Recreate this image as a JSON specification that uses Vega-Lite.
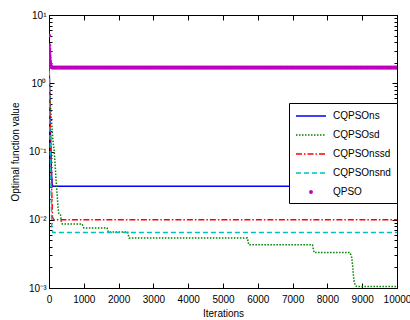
{
  "$schema": "https://vega.github.io/schema/vega-lite/v6.json",
  "width": 348,
  "height": 273,
  "autosize": "none",
  "padding": {"left": 49, "top": 15, "right": 13, "bottom": 32},
  "background": "white",
  "config": {
    "font": "Liberation Sans",
    "view": {"stroke": "black", "strokeWidth": 1},
    "axis": {"domainColor": "black", "tickColor": "black", "labelColor": "black", "titleColor": "black", "grid": false, "labelFontSize": 10, "titleFontSize": 10, "titleFontWeight": "normal", "labelFont": "Liberation Sans", "titleFont": "Liberation Sans"}
  },
  "datasets": {
    "lines": [
      {"s": "CQPSOns", "i": 0, "v": 2.0}, {"s": "CQPSOns", "i": 15, "v": 1.0}, {"s": "CQPSOns", "i": 30, "v": 0.3}, {"s": "CQPSOns", "i": 50, "v": 0.12}, {"s": "CQPSOns", "i": 70, "v": 0.05}, {"s": "CQPSOns", "i": 90, "v": 0.033}, {"s": "CQPSOns", "i": 110, "v": 0.031}, {"s": "CQPSOns", "i": 10000, "v": 0.031},
      {"s": "CQPSOsd", "i": 0, "v": 2.0}, {"s": "CQPSOsd", "i": 20, "v": 0.8}, {"s": "CQPSOsd", "i": 50, "v": 0.4}, {"s": "CQPSOsd", "i": 80, "v": 0.25}, {"s": "CQPSOsd", "i": 110, "v": 0.15}, {"s": "CQPSOsd", "i": 150, "v": 0.1}, {"s": "CQPSOsd", "i": 180, "v": 0.06}, {"s": "CQPSOsd", "i": 200, "v": 0.04}, {"s": "CQPSOsd", "i": 230, "v": 0.025}, {"s": "CQPSOsd", "i": 260, "v": 0.015}, {"s": "CQPSOsd", "i": 280, "v": 0.0125}, {"s": "CQPSOsd", "i": 330, "v": 0.012}, {"s": "CQPSOsd", "i": 360, "v": 0.009}, {"s": "CQPSOsd", "i": 380, "v": 0.0087}, {"s": "CQPSOsd", "i": 950, "v": 0.0087}, {"s": "CQPSOsd", "i": 1000, "v": 0.0076}, {"s": "CQPSOsd", "i": 1670, "v": 0.0076}, {"s": "CQPSOsd", "i": 1700, "v": 0.0066}, {"s": "CQPSOsd", "i": 2260, "v": 0.0066}, {"s": "CQPSOsd", "i": 2300, "v": 0.0054}, {"s": "CQPSOsd", "i": 5700, "v": 0.0054}, {"s": "CQPSOsd", "i": 5740, "v": 0.0043}, {"s": "CQPSOsd", "i": 7570, "v": 0.0043}, {"s": "CQPSOsd", "i": 7620, "v": 0.0033}, {"s": "CQPSOsd", "i": 8650, "v": 0.0033}, {"s": "CQPSOsd", "i": 8700, "v": 0.0028}, {"s": "CQPSOsd", "i": 8730, "v": 0.002}, {"s": "CQPSOsd", "i": 8760, "v": 0.0013}, {"s": "CQPSOsd", "i": 8800, "v": 0.00108}, {"s": "CQPSOsd", "i": 8850, "v": 0.00105}, {"s": "CQPSOsd", "i": 10000, "v": 0.00105},
      {"s": "CQPSOnssd", "i": 0, "v": 1.8}, {"s": "CQPSOnssd", "i": 20, "v": 0.6}, {"s": "CQPSOnssd", "i": 40, "v": 0.2}, {"s": "CQPSOnssd", "i": 60, "v": 0.08}, {"s": "CQPSOnssd", "i": 80, "v": 0.025}, {"s": "CQPSOnssd", "i": 100, "v": 0.011}, {"s": "CQPSOnssd", "i": 130, "v": 0.01}, {"s": "CQPSOnssd", "i": 10000, "v": 0.01},
      {"s": "CQPSOnsnd", "i": 0, "v": 2.0}, {"s": "CQPSOnsnd", "i": 20, "v": 0.3}, {"s": "CQPSOnsnd", "i": 50, "v": 0.05}, {"s": "CQPSOnsnd", "i": 80, "v": 0.008}, {"s": "CQPSOnsnd", "i": 110, "v": 0.0065}, {"s": "CQPSOnsnd", "i": 10000, "v": 0.0065}
    ],
    "qpso": [
      {"s": "QPSO", "i": 0, "v": 5.0}, {"s": "QPSO", "i": 3, "v": 3.6}, {"s": "QPSO", "i": 6, "v": 3.2}, {"s": "QPSO", "i": 9, "v": 2.9}, {"s": "QPSO", "i": 12, "v": 2.6}, {"s": "QPSO", "i": 15, "v": 2.4}, {"s": "QPSO", "i": 20, "v": 2.2}, {"s": "QPSO", "i": 25, "v": 2.05}, {"s": "QPSO", "i": 30, "v": 1.95}, {"s": "QPSO", "i": 40, "v": 1.85}, {"s": "QPSO", "i": 50, "v": 1.78}, {"s": "QPSO", "i": 70, "v": 1.73}, {"s": "QPSO", "i": 100, "v": 1.7},
      {"s": "QPSO", "i": 150, "v": 1.7}, {"s": "QPSO", "i": 200, "v": 1.7}, {"s": "QPSO", "i": 250, "v": 1.7}, {"s": "QPSO", "i": 300, "v": 1.7}, {"s": "QPSO", "i": 350, "v": 1.7}, {"s": "QPSO", "i": 400, "v": 1.7}, {"s": "QPSO", "i": 450, "v": 1.7}, {"s": "QPSO", "i": 500, "v": 1.7}, {"s": "QPSO", "i": 550, "v": 1.7}, {"s": "QPSO", "i": 600, "v": 1.7}, {"s": "QPSO", "i": 650, "v": 1.7}, {"s": "QPSO", "i": 700, "v": 1.7}, {"s": "QPSO", "i": 750, "v": 1.7}, {"s": "QPSO", "i": 800, "v": 1.7}, {"s": "QPSO", "i": 850, "v": 1.7}, {"s": "QPSO", "i": 900, "v": 1.7}, {"s": "QPSO", "i": 950, "v": 1.7},
      {"s": "QPSO", "i": 1000, "v": 1.7}, {"s": "QPSO", "i": 1050, "v": 1.7}, {"s": "QPSO", "i": 1100, "v": 1.7}, {"s": "QPSO", "i": 1150, "v": 1.7}, {"s": "QPSO", "i": 1200, "v": 1.7}, {"s": "QPSO", "i": 1250, "v": 1.7}, {"s": "QPSO", "i": 1300, "v": 1.7}, {"s": "QPSO", "i": 1350, "v": 1.7}, {"s": "QPSO", "i": 1400, "v": 1.7}, {"s": "QPSO", "i": 1450, "v": 1.7}, {"s": "QPSO", "i": 1500, "v": 1.7}, {"s": "QPSO", "i": 1550, "v": 1.7}, {"s": "QPSO", "i": 1600, "v": 1.7}, {"s": "QPSO", "i": 1650, "v": 1.7}, {"s": "QPSO", "i": 1700, "v": 1.7}, {"s": "QPSO", "i": 1750, "v": 1.7}, {"s": "QPSO", "i": 1800, "v": 1.7}, {"s": "QPSO", "i": 1850, "v": 1.7}, {"s": "QPSO", "i": 1900, "v": 1.7}, {"s": "QPSO", "i": 1950, "v": 1.7},
      {"s": "QPSO", "i": 2000, "v": 1.7}, {"s": "QPSO", "i": 2050, "v": 1.7}, {"s": "QPSO", "i": 2100, "v": 1.7}, {"s": "QPSO", "i": 2150, "v": 1.7}, {"s": "QPSO", "i": 2200, "v": 1.7}, {"s": "QPSO", "i": 2250, "v": 1.7}, {"s": "QPSO", "i": 2300, "v": 1.7}, {"s": "QPSO", "i": 2350, "v": 1.7}, {"s": "QPSO", "i": 2400, "v": 1.7}, {"s": "QPSO", "i": 2450, "v": 1.7}, {"s": "QPSO", "i": 2500, "v": 1.7}, {"s": "QPSO", "i": 2550, "v": 1.7}, {"s": "QPSO", "i": 2600, "v": 1.7}, {"s": "QPSO", "i": 2650, "v": 1.7}, {"s": "QPSO", "i": 2700, "v": 1.7}, {"s": "QPSO", "i": 2750, "v": 1.7}, {"s": "QPSO", "i": 2800, "v": 1.7}, {"s": "QPSO", "i": 2850, "v": 1.7}, {"s": "QPSO", "i": 2900, "v": 1.7}, {"s": "QPSO", "i": 2950, "v": 1.7},
      {"s": "QPSO", "i": 3000, "v": 1.7}, {"s": "QPSO", "i": 3050, "v": 1.7}, {"s": "QPSO", "i": 3100, "v": 1.7}, {"s": "QPSO", "i": 3150, "v": 1.7}, {"s": "QPSO", "i": 3200, "v": 1.7}, {"s": "QPSO", "i": 3250, "v": 1.7}, {"s": "QPSO", "i": 3300, "v": 1.7}, {"s": "QPSO", "i": 3350, "v": 1.7}, {"s": "QPSO", "i": 3400, "v": 1.7}, {"s": "QPSO", "i": 3450, "v": 1.7}, {"s": "QPSO", "i": 3500, "v": 1.7}, {"s": "QPSO", "i": 3550, "v": 1.7}, {"s": "QPSO", "i": 3600, "v": 1.7}, {"s": "QPSO", "i": 3650, "v": 1.7}, {"s": "QPSO", "i": 3700, "v": 1.7}, {"s": "QPSO", "i": 3750, "v": 1.7}, {"s": "QPSO", "i": 3800, "v": 1.7}, {"s": "QPSO", "i": 3850, "v": 1.7}, {"s": "QPSO", "i": 3900, "v": 1.7}, {"s": "QPSO", "i": 3950, "v": 1.7},
      {"s": "QPSO", "i": 4000, "v": 1.7}, {"s": "QPSO", "i": 4050, "v": 1.7}, {"s": "QPSO", "i": 4100, "v": 1.7}, {"s": "QPSO", "i": 4150, "v": 1.7}, {"s": "QPSO", "i": 4200, "v": 1.7}, {"s": "QPSO", "i": 4250, "v": 1.7}, {"s": "QPSO", "i": 4300, "v": 1.7}, {"s": "QPSO", "i": 4350, "v": 1.7}, {"s": "QPSO", "i": 4400, "v": 1.7}, {"s": "QPSO", "i": 4450, "v": 1.7}, {"s": "QPSO", "i": 4500, "v": 1.7}, {"s": "QPSO", "i": 4550, "v": 1.7}, {"s": "QPSO", "i": 4600, "v": 1.7}, {"s": "QPSO", "i": 4650, "v": 1.7}, {"s": "QPSO", "i": 4700, "v": 1.7}, {"s": "QPSO", "i": 4750, "v": 1.7}, {"s": "QPSO", "i": 4800, "v": 1.7}, {"s": "QPSO", "i": 4850, "v": 1.7}, {"s": "QPSO", "i": 4900, "v": 1.7}, {"s": "QPSO", "i": 4950, "v": 1.7},
      {"s": "QPSO", "i": 5000, "v": 1.7}, {"s": "QPSO", "i": 5050, "v": 1.7}, {"s": "QPSO", "i": 5100, "v": 1.7}, {"s": "QPSO", "i": 5150, "v": 1.7}, {"s": "QPSO", "i": 5200, "v": 1.7}, {"s": "QPSO", "i": 5250, "v": 1.7}, {"s": "QPSO", "i": 5300, "v": 1.7}, {"s": "QPSO", "i": 5350, "v": 1.7}, {"s": "QPSO", "i": 5400, "v": 1.7}, {"s": "QPSO", "i": 5450, "v": 1.7}, {"s": "QPSO", "i": 5500, "v": 1.7}, {"s": "QPSO", "i": 5550, "v": 1.7}, {"s": "QPSO", "i": 5600, "v": 1.7}, {"s": "QPSO", "i": 5650, "v": 1.7}, {"s": "QPSO", "i": 5700, "v": 1.7}, {"s": "QPSO", "i": 5750, "v": 1.7}, {"s": "QPSO", "i": 5800, "v": 1.7}, {"s": "QPSO", "i": 5850, "v": 1.7}, {"s": "QPSO", "i": 5900, "v": 1.7}, {"s": "QPSO", "i": 5950, "v": 1.7},
      {"s": "QPSO", "i": 6000, "v": 1.7}, {"s": "QPSO", "i": 6050, "v": 1.7}, {"s": "QPSO", "i": 6100, "v": 1.7}, {"s": "QPSO", "i": 6150, "v": 1.7}, {"s": "QPSO", "i": 6200, "v": 1.7}, {"s": "QPSO", "i": 6250, "v": 1.7}, {"s": "QPSO", "i": 6300, "v": 1.7}, {"s": "QPSO", "i": 6350, "v": 1.7}, {"s": "QPSO", "i": 6400, "v": 1.7}, {"s": "QPSO", "i": 6450, "v": 1.7}, {"s": "QPSO", "i": 6500, "v": 1.7}, {"s": "QPSO", "i": 6550, "v": 1.7}, {"s": "QPSO", "i": 6600, "v": 1.7}, {"s": "QPSO", "i": 6650, "v": 1.7}, {"s": "QPSO", "i": 6700, "v": 1.7}, {"s": "QPSO", "i": 6750, "v": 1.7}, {"s": "QPSO", "i": 6800, "v": 1.7}, {"s": "QPSO", "i": 6850, "v": 1.7}, {"s": "QPSO", "i": 6900, "v": 1.7}, {"s": "QPSO", "i": 6950, "v": 1.7},
      {"s": "QPSO", "i": 7000, "v": 1.7}, {"s": "QPSO", "i": 7050, "v": 1.7}, {"s": "QPSO", "i": 7100, "v": 1.7}, {"s": "QPSO", "i": 7150, "v": 1.7}, {"s": "QPSO", "i": 7200, "v": 1.7}, {"s": "QPSO", "i": 7250, "v": 1.7}, {"s": "QPSO", "i": 7300, "v": 1.7}, {"s": "QPSO", "i": 7350, "v": 1.7}, {"s": "QPSO", "i": 7400, "v": 1.7}, {"s": "QPSO", "i": 7450, "v": 1.7}, {"s": "QPSO", "i": 7500, "v": 1.7}, {"s": "QPSO", "i": 7550, "v": 1.7}, {"s": "QPSO", "i": 7600, "v": 1.7}, {"s": "QPSO", "i": 7650, "v": 1.7}, {"s": "QPSO", "i": 7700, "v": 1.7}, {"s": "QPSO", "i": 7750, "v": 1.7}, {"s": "QPSO", "i": 7800, "v": 1.7}, {"s": "QPSO", "i": 7850, "v": 1.7}, {"s": "QPSO", "i": 7900, "v": 1.7}, {"s": "QPSO", "i": 7950, "v": 1.7},
      {"s": "QPSO", "i": 8000, "v": 1.7}, {"s": "QPSO", "i": 8050, "v": 1.7}, {"s": "QPSO", "i": 8100, "v": 1.7}, {"s": "QPSO", "i": 8150, "v": 1.7}, {"s": "QPSO", "i": 8200, "v": 1.7}, {"s": "QPSO", "i": 8250, "v": 1.7}, {"s": "QPSO", "i": 8300, "v": 1.7}, {"s": "QPSO", "i": 8350, "v": 1.7}, {"s": "QPSO", "i": 8400, "v": 1.7}, {"s": "QPSO", "i": 8450, "v": 1.7}, {"s": "QPSO", "i": 8500, "v": 1.7}, {"s": "QPSO", "i": 8550, "v": 1.7}, {"s": "QPSO", "i": 8600, "v": 1.7}, {"s": "QPSO", "i": 8650, "v": 1.7}, {"s": "QPSO", "i": 8700, "v": 1.7}, {"s": "QPSO", "i": 8750, "v": 1.7}, {"s": "QPSO", "i": 8800, "v": 1.7}, {"s": "QPSO", "i": 8850, "v": 1.7}, {"s": "QPSO", "i": 8900, "v": 1.7}, {"s": "QPSO", "i": 8950, "v": 1.7},
      {"s": "QPSO", "i": 9000, "v": 1.7}, {"s": "QPSO", "i": 9050, "v": 1.7}, {"s": "QPSO", "i": 9100, "v": 1.7}, {"s": "QPSO", "i": 9150, "v": 1.7}, {"s": "QPSO", "i": 9200, "v": 1.7}, {"s": "QPSO", "i": 9250, "v": 1.7}, {"s": "QPSO", "i": 9300, "v": 1.7}, {"s": "QPSO", "i": 9350, "v": 1.7}, {"s": "QPSO", "i": 9400, "v": 1.7}, {"s": "QPSO", "i": 9450, "v": 1.7}, {"s": "QPSO", "i": 9500, "v": 1.7}, {"s": "QPSO", "i": 9550, "v": 1.7}, {"s": "QPSO", "i": 9600, "v": 1.7}, {"s": "QPSO", "i": 9650, "v": 1.7}, {"s": "QPSO", "i": 9700, "v": 1.7}, {"s": "QPSO", "i": 9750, "v": 1.7}, {"s": "QPSO", "i": 9800, "v": 1.7}, {"s": "QPSO", "i": 9850, "v": 1.7}, {"s": "QPSO", "i": 9900, "v": 1.7}, {"s": "QPSO", "i": 9950, "v": 1.7}, {"s": "QPSO", "i": 10000, "v": 1.7}
    ]
  },
  "layer": [
    {
      "data": {"name": "lines"},
      "mark": {"type": "line", "strokeWidth": 1.5, "clip": true},
      "encoding": {
        "x": {"field": "i", "type": "quantitative", "scale": {"domain": [0, 10000], "nice": false},
          "axis": {"orient": "bottom", "values": [0, 1000, 2000, 3000, 4000, 5000, 6000, 7000, 8000, 9000, 10000], "format": "d", "tickSize": -5, "labelPadding": 11, "title": "Iterations", "titlePadding": 4, "labelFlush": false, "labelOverlap": false}},
        "y": {"field": "v", "type": "quantitative", "scale": {"type": "log", "domain": [0.001, 10], "nice": false},
          "axis": {"orient": "left", "values": [0.001, 0.002, 0.003, 0.004, 0.005, 0.006, 0.007, 0.008, 0.009, 0.01, 0.02, 0.03, 0.04, 0.05, 0.06, 0.07, 0.08, 0.09, 0.1, 0.2, 0.3, 0.4, 0.5, 0.6, 0.7, 0.8, 0.9, 1, 2, 3, 4, 5, 6, 7, 8, 9, 10],
            "labelExpr": "datum.value == 10 ? '10¹' : datum.value == 1 ? '10⁰' : datum.value == 0.1 ? '10⁻¹' : datum.value == 0.01 ? '10⁻²' : datum.value == 0.001 ? '10⁻³' : ''",
            "tickSize": {"condition": {"test": "datum.value == 10 || datum.value == 1 || datum.value == 0.1 || datum.value == 0.01 || datum.value == 0.001", "value": -5}, "value": -3},
            "labelPadding": 8, "labelOverlap": false, "labelFlush": false, "title": "Optimal function value", "titlePadding": 8}},
        "color": {"field": "s", "type": "nominal",
          "scale": {"domain": ["CQPSOns", "CQPSOsd", "CQPSOnssd", "CQPSOnsnd", "QPSO"], "range": ["#0000ff", "#008000", "#ff0000", "#00bfbf", "#bf00bf"]},
          "legend": {"orient": "none", "legendX": 240, "legendY": 88, "title": null, "strokeColor": "black", "fillColor": "white", "padding": 6, "labelFontSize": 10, "labelFont": "Liberation Sans", "symbolStrokeWidth": 1.5, "symbolSize": 144, "rowPadding": 7, "labelOffset": 24,
            "encode": {"symbols": {"update": {
              "shape": {"signal": "datum.label === 'QPSO' ? 'M-1,0M4,0M1.3,0L1.36,-0.14L1.5,-0.2L1.64,-0.14L1.7,0L1.64,0.14L1.5,0.2L1.36,0.14Z' : 'M-1,0H4'"},
              "fill": {"signal": "datum.label === 'QPSO' ? '#bf00bf' : 'transparent'"},
              "stroke": {"signal": "scale('color', datum.value)"},
              "size": {"value": 144}
            }}}}},
        "strokeDash": {"field": "s", "type": "nominal",
          "scale": {"domain": ["CQPSOns", "CQPSOsd", "CQPSOnssd", "CQPSOnsnd", "QPSO"], "range": [[1, 0], [1.5, 1.5], [6, 2, 1.5, 2], [5, 3], [1, 0]]}}
      }
    },
    {
      "data": {"name": "qpso"},
      "mark": {"type": "point", "filled": true, "size": 18, "opacity": 1, "clip": true, "color": "#bf00bf"},
      "encoding": {
        "x": {"field": "i", "type": "quantitative", "scale": {"domain": [0, 10000], "nice": false},
          "axis": {"orient": "top", "values": [0, 1000, 2000, 3000, 4000, 5000, 6000, 7000, 8000, 9000, 10000], "tickSize": -5, "labels": false, "title": null}},
        "y": {"field": "v", "type": "quantitative", "scale": {"type": "log", "domain": [0.001, 10], "nice": false},
          "axis": {"orient": "right", "values": [0.001, 0.002, 0.003, 0.004, 0.005, 0.006, 0.007, 0.008, 0.009, 0.01, 0.02, 0.03, 0.04, 0.05, 0.06, 0.07, 0.08, 0.09, 0.1, 0.2, 0.3, 0.4, 0.5, 0.6, 0.7, 0.8, 0.9, 1, 2, 3, 4, 5, 6, 7, 8, 9, 10],
            "tickSize": {"condition": {"test": "datum.value == 10 || datum.value == 1 || datum.value == 0.1 || datum.value == 0.01 || datum.value == 0.001", "value": -5}, "value": -3},
            "labels": false, "title": null}}
      }
    }
  ],
  "resolve": {"axis": {"x": "independent", "y": "independent"}}
}
